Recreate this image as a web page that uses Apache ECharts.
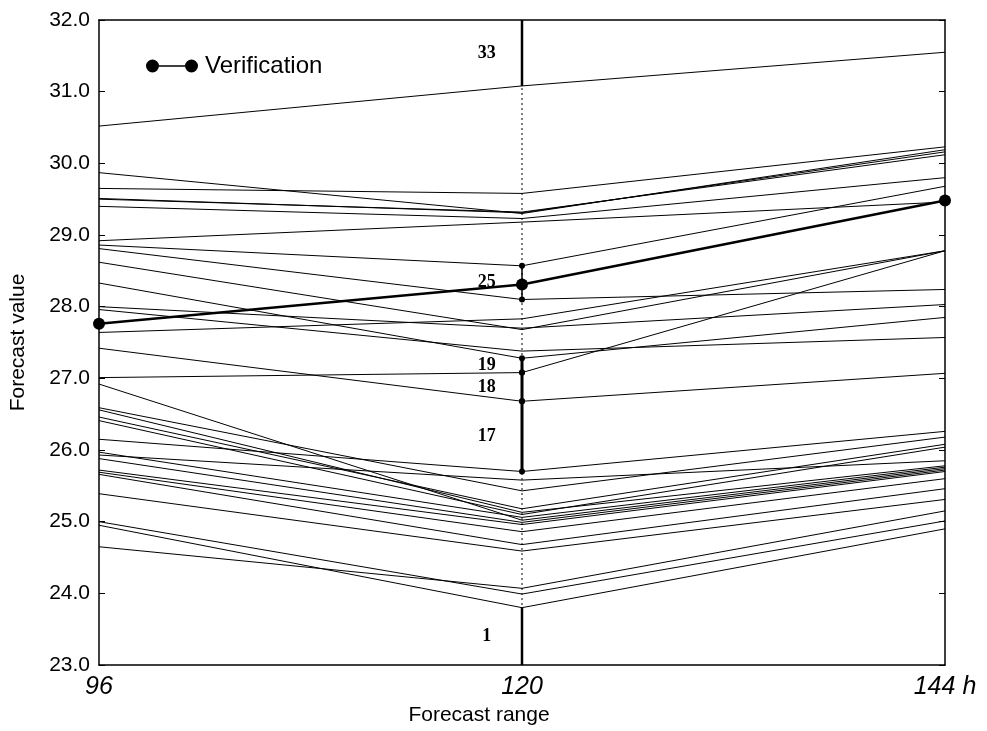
<!DOCTYPE html>
<html>
<head>
<meta charset="utf-8">
<script src="https://cdn.jsdelivr.net/npm/echarts@6/dist/echarts.min.js"></script>
<style>
  html, body { margin: 0; padding: 0; background: #fff; }
  #chart { width: 987px; height: 731px; }
</style>
</head>
<body>
<div id="chart"></div>
<script>
// Forecast lead times (hours)
const ranges = [96, 120, 144];
const rangeLabels = ['96', '120', '144 h'];

// Ensemble member forecasts at 96 h, 120 h and 144 h (same member order in each list)
const at96 = [
  30.52, 29.65, 29.87, 29.51, 29.50, 29.40, 28.92, 28.86,
  28.81, 28.62, 27.96, 28.33, 27.64, 27.42, 27.01, 28.00,
  26.15, 25.93, 26.59, 26.46, 26.56, 26.41, 25.97, 26.92,
  25.88, 25.72, 25.69, 25.66, 25.39, 24.65, 25.00, 24.95
];
const at120 = [
  31.08, 29.58, 29.30, 29.31, 29.32, 29.23, 29.18, 28.57,
  28.10, 27.68, 27.38, 27.28, 27.83, 26.68, 27.08, 27.70,
  25.70, 25.58, 25.43, 25.18, 25.13, 25.10, 25.06, 25.02,
  24.99, 24.96, 24.86, 24.68, 24.59, 24.07, 23.99, 23.80
];
const at144 = [
  31.55, 30.23, 30.19, 30.16, 30.12, 29.80, 29.46, 29.68,
  28.24, 28.78, 27.57, 27.85, 28.78, 27.07, 28.78, 28.03,
  26.26, 25.85, 26.18, 26.08, 25.78, 26.04, 25.76, 25.74,
  25.72, 25.70, 25.60, 25.46, 25.31, 25.15, 25.01, 24.90
];

// Verifying analysis
const verification = [27.76, 28.31, 29.48];

// Rank intervals marked on the 120 h line, and how heavy each is drawn
const markedRanks = [33, 25, 19, 18, 17, 1];
const rankWeights = [2.5, 1.5, 3, 3, 3, 2.5];

const yMin = 23, yMax = 32;

const black = '#000';
const series = [];

// Dotted vertical at 120 h
series.push({
  type: 'line', silent: true, symbol: 'none',
  data: [[ranges[1], yMin], [ranges[1], yMax]],
  lineStyle: { color: black, width: 1, type: [2, 3] },
  z: 1
});

// One polyline per ensemble member
for (let i = 0; i < at96.length; i++) {
  series.push({
    name: 'member ' + (i + 1),
    type: 'line', silent: true, symbol: 'none',
    data: [[ranges[0], at96[i]], [ranges[1], at120[i]], [ranges[2], at144[i]]],
    lineStyle: { color: black, width: 1 },
    z: 2
  });
}

// Rank interval segments along the 120 h line
const sorted120 = at120.slice().sort((a, b) => a - b);
const n = sorted120.length;
markedRanks.forEach((r, k) => {
  const lo = r === 1 ? yMin : sorted120[r - 2];
  const hi = r === n + 1 ? yMax : sorted120[r - 1];
  const showDots = r !== 1 && r !== n + 1;
  series.push({
    type: 'line', silent: true,
    data: [[ranges[1], lo], [ranges[1], hi]],
    symbol: showDots ? 'circle' : 'none', symbolSize: 6,
    itemStyle: { color: black },
    lineStyle: { color: black, width: rankWeights[k] },
    clip: false,
    z: 3
  });
  // rank number beside the interval
  series.push({
    type: 'scatter', silent: true, symbolSize: 0,
    data: [[118, (lo + hi) / 2, r]],
    itemStyle: { color: black, opacity: 1 },
    label: {
      show: true, position: 'inside', opacity: 1,
      formatter: p => String(p.value[2]),
      color: black, fontFamily: 'Liberation Serif', fontSize: 18, fontWeight: 'bold'
    },
    z: 4
  });
});

// Verification
series.push({
  name: 'Verification',
  type: 'line',
  data: ranges.map((x, i) => [x, verification[i]]),
  symbol: 'circle', symbolSize: 12,
  itemStyle: { color: black },
  lineStyle: { color: black, width: 2.5 },
  clip: false,
  z: 5
});

const chart = echarts.init(document.getElementById('chart'), null, { renderer: 'canvas' });
chart.setOption({
  animation: false,
  backgroundColor: '#fff',
  textStyle: { fontFamily: 'Liberation Sans' },
  grid: { left: 98, right: 42, top: 20, bottom: 63 },
  legend: {
    data: ['Verification'],
    left: 141, top: 49,
    icon: 'path://M0,6A6,6 0 1 1 12,6A6,6 0 1 1 0,6Z M36,6A6,6 0 1 1 48,6A6,6 0 1 1 36,6Z M12,5.2H36V6.8H12Z',
    itemWidth: 56, itemHeight: 13, itemGap: 5,
    itemStyle: { color: black },
    textStyle: { color: black, fontSize: 24, fontFamily: 'Liberation Sans' }
  },
  xAxis: [{
    type: 'value', min: ranges[0], max: ranges[2], interval: 24,
    position: 'bottom',
    axisLine: { show: true, lineStyle: { color: black, width: 1.5 } },
    axisTick: { show: false },
    splitLine: { show: false },
    axisLabel: {
      color: black, fontSize: 25, fontStyle: 'italic', margin: 10,
      formatter: v => rangeLabels[ranges.indexOf(v)] || ''
    },
    name: 'Forecast range', nameLocation: 'middle', nameGap: 40,
    nameTextStyle: { color: black, fontSize: 21, padding: [0, 86, 0, 0] }
  }, {
    type: 'value', min: ranges[0], max: ranges[2], position: 'top',
    axisLine: { show: true, lineStyle: { color: black, width: 1.5 } },
    axisTick: { show: false }, axisLabel: { show: false }, splitLine: { show: false }
  }],
  yAxis: [{
    type: 'value', min: yMin, max: yMax, interval: 1,
    position: 'left',
    axisLine: { show: true, lineStyle: { color: black, width: 1.5 } },
    axisTick: { show: true, inside: true, length: 6, lineStyle: { color: black } },
    splitLine: { show: false },
    axisLabel: { color: black, fontSize: 21, margin: 9, formatter: v => v.toFixed(1) },
    name: 'Forecast value', nameLocation: 'middle', nameGap: 70,
    nameTextStyle: { color: black, fontSize: 21 }
  }, {
    type: 'value', min: yMin, max: yMax, interval: 1,
    position: 'right',
    axisLine: { show: true, lineStyle: { color: black, width: 1.5 } },
    axisTick: { show: true, inside: true, length: 6, lineStyle: { color: black } },
    axisLabel: { show: false }, splitLine: { show: false }
  }],
  series: series
});
</script>
</body>
</html>
